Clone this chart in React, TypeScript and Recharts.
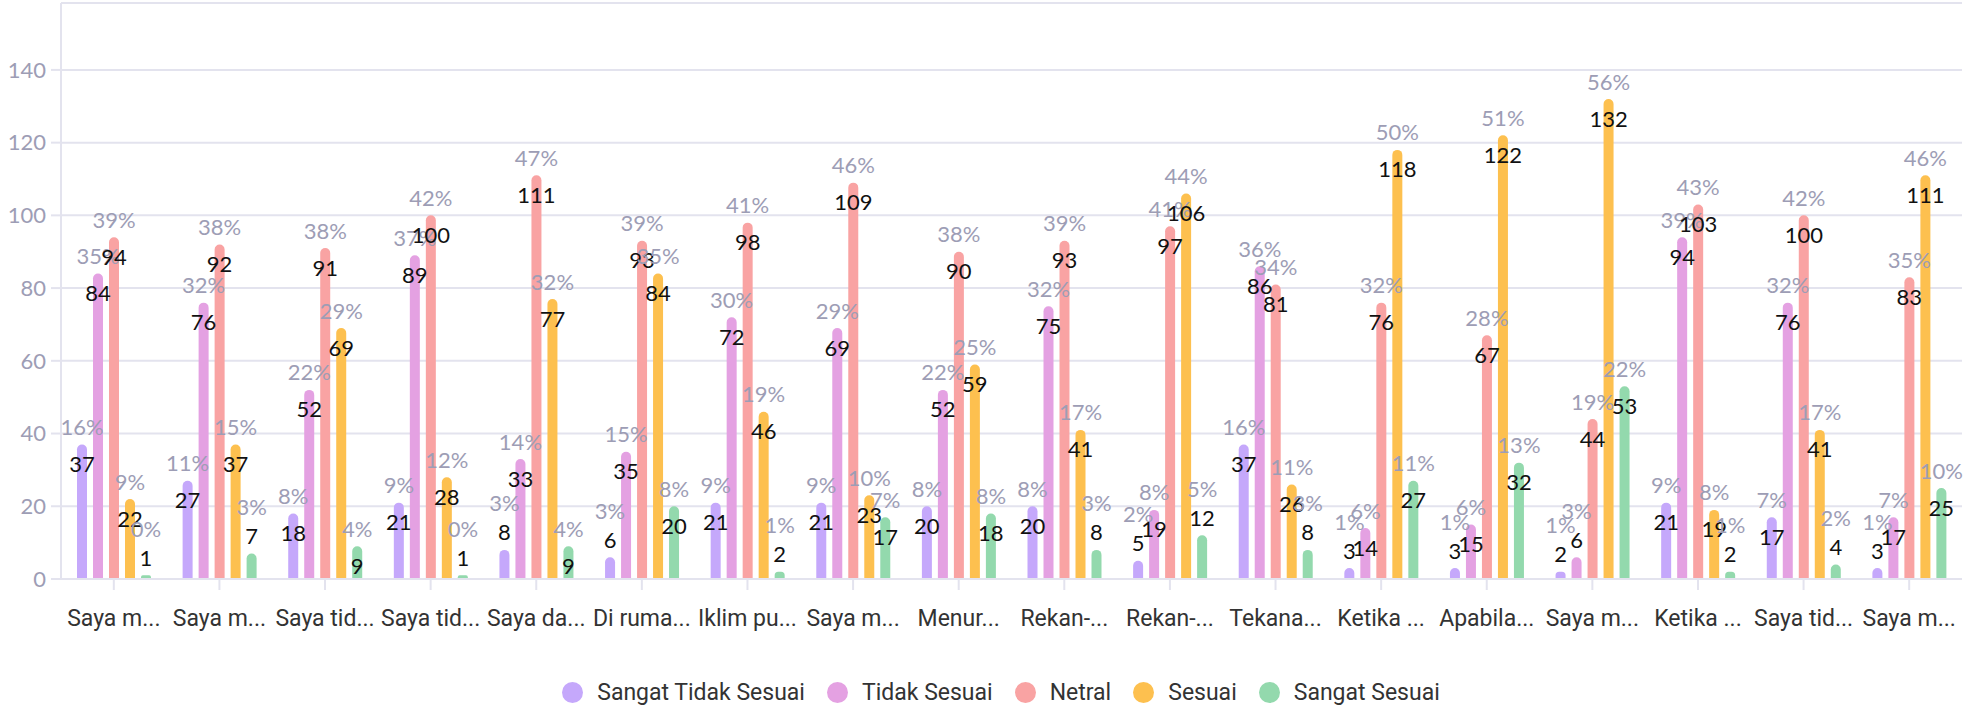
import {
  BarChart,
  Bar,
  XAxis,
  YAxis,
  CartesianGrid,
  ReferenceLine,
  Legend,
  LabelList,
} from 'recharts';

const categories = [
  'Saya m...', 'Saya m...', 'Saya tid...', 'Saya tid...', 'Saya da...', 'Di ruma...',
  'Iklim pu...', 'Saya m...', 'Menur...', 'Rekan-...', 'Rekan-...', 'Tekana...',
  'Ketika ...', 'Apabila...', 'Saya m...', 'Ketika ...', 'Saya tid...', 'Saya m...',
];

const sangatTidakSesuai = [37, 27, 18, 21, 8, 6, 21, 21, 20, 20, 5, 37, 3, 3, 2, 21, 17, 3];
const tidakSesuai = [84, 76, 52, 89, 33, 35, 72, 69, 52, 75, 19, 86, 14, 15, 6, 94, 76, 17];
const netral = [94, 92, 91, 100, 111, 93, 98, 109, 90, 93, 97, 81, 76, 67, 44, 103, 100, 83];
const sesuai = [22, 37, 69, 28, 77, 84, 46, 23, 59, 41, 106, 26, 118, 122, 132, 19, 41, 111];
const sangatSesuai = [1, 7, 9, 1, 9, 20, 2, 17, 18, 8, 12, 8, 27, 32, 53, 2, 4, 25];

const yTicks = [0, 20, 40, 60, 80, 100, 120, 140];

const series = [
  { key: 'Sangat Tidak Sesuai', values: sangatTidakSesuai, color: '#c5a8fb' },
  { key: 'Tidak Sesuai', values: tidakSesuai, color: '#e4a1e2' },
  { key: 'Netral', values: netral, color: '#f9a3a3' },
  { key: 'Sesuai', values: sesuai, color: '#fdc04f' },
  { key: 'Sangat Sesuai', values: sangatSesuai, color: '#93d9ad' },
];

const data = categories.map((name, i) => {
  const row: Record<string, string | number> = { name };
  series.forEach((s) => { row[s.key] = s.values[i]; });
  return row;
});

const totals = categories.map((_, i) => series.reduce((sum, s) => sum + s.values[i], 0));
const yMax = Math.max(...series.flatMap((s) => s.values)) * 1.2;

const GRID = '#e3e3ee';
const MUTED = '#9d9db5';
const NUM_FONT = 'Lato, sans-serif';

// value sits just under the bar top when the bar is tall enough, otherwise above it
const BarLabel = (props: any) => {
  const { x, y, width, height, value, index } = props;
  const cx = x + width / 2;
  const pct = Math.round((value / totals[index]) * 100) + '%';
  const inside = height > String(value).length * 12 + 20;
  const vy = inside ? y + 19 : y - 18;
  const py = inside ? y - 18 : y - 47;
  return (
    <g fontFamily={NUM_FONT} fontSize={22}>
      <text x={cx} y={py} textAnchor="middle" dominantBaseline="central" fill={MUTED}>{pct}</text>
      <text x={cx} y={vy} textAnchor="middle" dominantBaseline="central" fill="#111">{value}</text>
    </g>
  );
};

const LegendContent = () => (
  <div
    style={{
      display: 'flex',
      justifyContent: 'center',
      alignItems: 'center',
      gap: 22,
      height: 40,
      paddingLeft: 40,
      fontFamily: 'Roboto, sans-serif',
      fontSize: 23,
      color: '#333',
    }}
  >
    {series.map((s) => (
      <span key={s.key} style={{ display: 'flex', alignItems: 'center' }}>
        <span style={{ width: 21, height: 21, borderRadius: '50%', background: s.color, marginRight: 14 }} />
        {s.key}
      </span>
    ))}
  </div>
);

export default function App() {
  return (
    <>
      <style>{'body{margin:0}'}</style>
      <BarChart
        width={1964}
        height={712}
        data={data}
        margin={{ top: 3, right: 2, left: 0, bottom: 0 }}
        barSize={10}
        barGap={6}
      >
        <CartesianGrid vertical={false} stroke={GRID} strokeWidth={2} />
        <ReferenceLine y={yMax} stroke={GRID} strokeWidth={2} />
        <XAxis
          dataKey="name"
          height={93}
          interval={0}
          axisLine={{ stroke: GRID, strokeWidth: 2 }}
          tickLine={{ stroke: GRID, strokeWidth: 2 }}
          tickSize={11}
          tickMargin={20}
          tick={{ fontSize: 23, fill: '#333', fontFamily: 'Roboto, sans-serif' }}
        />
        <YAxis
          width={61}
          domain={[0, yMax]}
          ticks={yTicks}
          allowDataOverflow
          axisLine={{ stroke: GRID, strokeWidth: 2 }}
          tickLine={{ stroke: GRID, strokeWidth: 2 }}
          tickSize={10}
          tickMargin={5}
          tick={{ fontSize: 22, fill: MUTED, fontFamily: NUM_FONT }}
        />
        <Legend verticalAlign="bottom" content={<LegendContent />} />
        {series.map((s) => (
          <Bar key={s.key} dataKey={s.key} fill={s.color} radius={[5, 5, 0, 0]} isAnimationActive={false}>
            <LabelList dataKey={s.key} content={<BarLabel />} />
          </Bar>
        ))}
      </BarChart>
    </>
  );
}
